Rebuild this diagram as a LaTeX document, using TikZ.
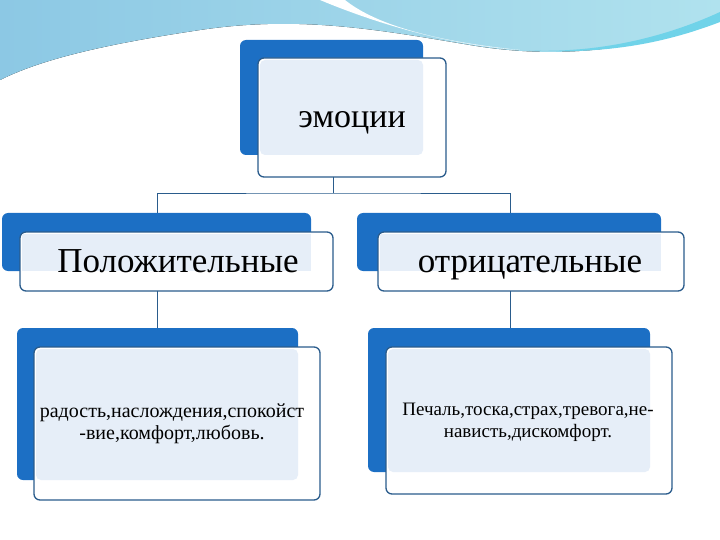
\documentclass[tikz,border=0pt]{standalone}
\usepackage{fontspec}
\setmainfont{Liberation Serif}
\begin{document}
\begin{tikzpicture}[x=1pt,y=-1pt,
 back/.style={fill=blue1,rounded corners=6pt},
 front/.style={draw=edge,line width=1.3pt,fill=white,rounded corners=6pt},
 inner/.style={fill=light},
 conn/.style={draw=edge,line width=0.8pt}]
\definecolor{blue1}{HTML}{1C6FC4}
\definecolor{edge}{HTML}{2A5C8C}
\definecolor{light}{HTML}{E6EEF8}
\definecolor{sky}{HTML}{8CC8E4}
\definecolor{sky2}{HTML}{B0E2EE}
\useasboundingbox (0,0) rectangle (720,540);
% top swoosh
\fill[left color=sky,right color=sky2] (0,0) -- (720,0) -- (720,20) .. controls (640,50) and (560,60) .. (470,45) .. controls (380,30) and (300,15) .. (200,30) .. controls (100,45) and (40,60) .. (0,80) -- cycle;
\fill[white] (320,0) .. controls (380,25) and (450,45) .. (520,50) .. controls (420,40) and (370,20) .. (345,0) -- cycle;
\fill[sky!80!cyan] (520,50) .. controls (600,55) and (670,35) .. (720,12) -- (720,22) .. controls (660,45) and (600,55) .. (520,50) -- cycle;
% top box
\fill[back] (240,40) rectangle (423,155);
\path[front] (258,58) rectangle (446,177);
\fill[inner,rounded corners=5pt] (260,60) rectangle (423,155);
\node[anchor=base] (e) at (352,128) {\fontsize{34}{38}\selectfont эмоции};
% middle
\fill[back] (2,213) rectangle (311,271);
\path[front] (20,232) rectangle (333,291);
\fill[inner] (22,234) rectangle (311,271);
\node[anchor=base] (p) at (178,272) {\fontsize{35}{40}\selectfont Положительные};
\fill[back] (357,213) rectangle (661,271);
\path[front] (378,232) rectangle (684,291);
\fill[inner] (380,234) rectangle (661,271);
\node[anchor=base] (n) at (530,272) {\fontsize{35}{40}\selectfont отрицательные};
% bottom
\fill[back] (17,328) rectangle (298,480);
\path[front] (34,347) rectangle (320,500);
\fill[inner,rounded corners=5pt] (36,349) rectangle (298,480);
\node[align=center,font=\fontsize{20}{22}\selectfont] (pl) at (172,424) {радость,наслождения,спокойст\\-вие,комфорт,любовь.};
\fill[back] (368,328) rectangle (650,472);
\path[front] (386,347) rectangle (672,494);
\fill[inner,rounded corners=5pt] (388,349) rectangle (650,472);
\node[align=center,font=\fontsize{19}{22}\selectfont] (nl) at (528,422) {Печаль,тоска,страх,тревога,не-\\нависть,дискомфорт.};
% connectors
\coordinate (t) at (333,177);
\coordinate (j) at (333,193);
\draw[conn] (t) -- (j);
\draw[conn] (157,213) |- (j) -| (510,213);
\draw[conn] (157,291) -- (157,328);
\draw[conn] (510,291) -- (510,328);
\end{tikzpicture}
\end{document}
